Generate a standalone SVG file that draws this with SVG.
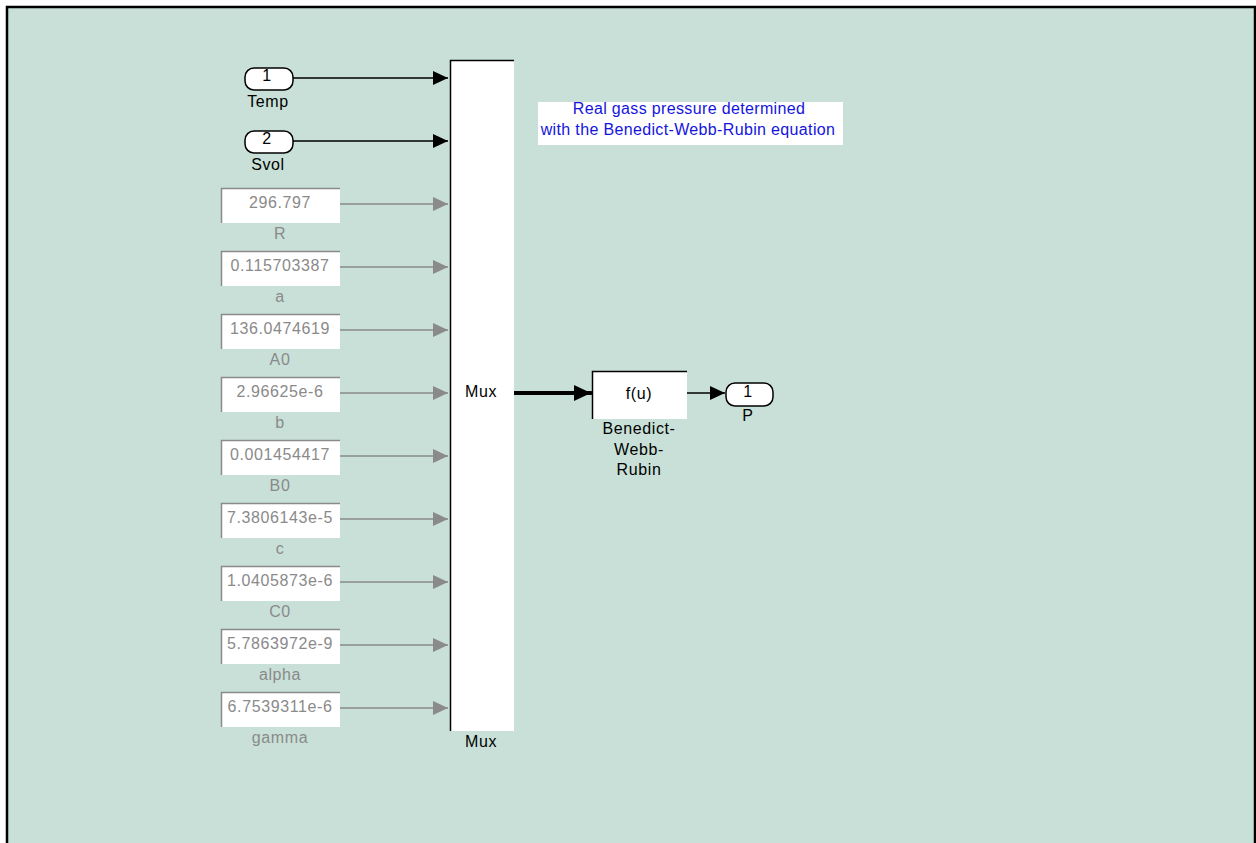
<svg xmlns="http://www.w3.org/2000/svg" width="1256" height="843" viewBox="0 0 1256 843">
<style>
text{font-family:"Liberation Sans",Arial,sans-serif;font-size:16px;text-anchor:middle;letter-spacing:0.6px}
.blk{fill:#000}
.gry{fill:#8a8a8a}
.blue{fill:#1414dc;letter-spacing:0.35px}
.cbox{fill:#fff}
.cedge{fill:none;stroke:#8a8a8a;stroke-width:1.5}
.port{fill:#fff;stroke:#000;stroke-width:1.5}
.wb{fill:none;stroke:#000;stroke-width:1.5}
.gl{stroke:#8a8a8a;stroke-width:1.5;fill:none}
.bl{stroke:#000;stroke-width:1.5;fill:none}
</style>
<defs>
<marker id="ab" markerWidth="15" markerHeight="14" refX="15" refY="7" orient="auto" markerUnits="userSpaceOnUse"><path d="M0,0 L15,7 L0,14 Z" fill="#000"/></marker>
<marker id="ag" markerWidth="15" markerHeight="14" refX="15" refY="7" orient="auto" markerUnits="userSpaceOnUse"><path d="M0,0 L15,7 L0,14 Z" fill="#8a8a8a"/></marker>
<marker id="abig" markerWidth="17" markerHeight="16" refX="17" refY="8" orient="auto" markerUnits="userSpaceOnUse"><path d="M0,0 L17,8 L0,16 Z" fill="#000"/></marker>
</defs>
<rect x="0" y="0" width="1256" height="843" fill="#fff"/>
<rect x="7" y="7" width="1248" height="850" fill="#C8E0D8" stroke="#000" stroke-width="2.5"/>

<g id="connectors">
<line class="bl" x1="293" y1="78" x2="448" y2="78" marker-end="url(#ab)"/>
<line class="bl" x1="293" y1="141" x2="448" y2="141" marker-end="url(#ab)"/>
<line class="gl" x1="338" y1="204" x2="448" y2="204" marker-end="url(#ag)"/>
<line class="gl" x1="338" y1="267" x2="448" y2="267" marker-end="url(#ag)"/>
<line class="gl" x1="338" y1="330" x2="448" y2="330" marker-end="url(#ag)"/>
<line class="gl" x1="338" y1="393" x2="448" y2="393" marker-end="url(#ag)"/>
<line class="gl" x1="338" y1="456" x2="448" y2="456" marker-end="url(#ag)"/>
<line class="gl" x1="338" y1="519" x2="448" y2="519" marker-end="url(#ag)"/>
<line class="gl" x1="338" y1="582" x2="448" y2="582" marker-end="url(#ag)"/>
<line class="gl" x1="338" y1="645" x2="448" y2="645" marker-end="url(#ag)"/>
<line class="gl" x1="338" y1="708" x2="448" y2="708" marker-end="url(#ag)"/>
<line x1="513" y1="393" x2="591" y2="393" stroke="#000" stroke-width="4" stroke-linecap="round" marker-end="url(#abig)"/>
<line class="bl" x1="685" y1="393" x2="725" y2="393" marker-end="url(#ab)"/>
</g>

<g id="in_temp">
<rect class="port" x="245" y="68" width="48" height="22" rx="9"/>
<text class="blk" x="267" y="81" font-size="14">1</text>
<text class="blk" x="268" y="107">Temp</text>
</g>
<g id="in_svol">
<rect class="port" x="245" y="131" width="48" height="22" rx="9"/>
<text class="blk" x="267" y="144" font-size="14">2</text>
<text class="blk" x="268" y="170">Svol</text>
</g>

<g id="const_R">
<rect class="cbox" x="221" y="188" width="119" height="35"/>
<path class="cedge" d="M221.5,223 V188.5 H340"/>
<text class="gry" x="280" y="208">296.797</text>
<text class="gry" x="280" y="238.5">R</text>
</g>
<g id="const_a">
<rect class="cbox" x="221" y="251" width="119" height="35"/>
<path class="cedge" d="M221.5,286 V251.5 H340"/>
<text class="gry" x="280" y="271">0.115703387</text>
<text class="gry" x="280" y="301.5">a</text>
</g>
<g id="const_A0">
<rect class="cbox" x="221" y="314" width="119" height="35"/>
<path class="cedge" d="M221.5,349 V314.5 H340"/>
<text class="gry" x="280" y="334">136.0474619</text>
<text class="gry" x="280" y="364.5">A0</text>
</g>
<g id="const_b">
<rect class="cbox" x="221" y="377" width="119" height="35"/>
<path class="cedge" d="M221.5,412 V377.5 H340"/>
<text class="gry" x="280" y="397">2.96625e-6</text>
<text class="gry" x="280" y="427.5">b</text>
</g>
<g id="const_B0">
<rect class="cbox" x="221" y="440" width="119" height="35"/>
<path class="cedge" d="M221.5,475 V440.5 H340"/>
<text class="gry" x="280" y="460">0.001454417</text>
<text class="gry" x="280" y="490.5">B0</text>
</g>
<g id="const_c">
<rect class="cbox" x="221" y="503" width="119" height="35"/>
<path class="cedge" d="M221.5,538 V503.5 H340"/>
<text class="gry" x="280" y="523">7.3806143e-5</text>
<text class="gry" x="280" y="553.5">c</text>
</g>
<g id="const_C0">
<rect class="cbox" x="221" y="566" width="119" height="35"/>
<path class="cedge" d="M221.5,601 V566.5 H340"/>
<text class="gry" x="280" y="586">1.0405873e-6</text>
<text class="gry" x="280" y="616.5">C0</text>
</g>
<g id="const_alpha">
<rect class="cbox" x="221" y="629" width="119" height="35"/>
<path class="cedge" d="M221.5,664 V629.5 H340"/>
<text class="gry" x="280" y="649">5.7863972e-9</text>
<text class="gry" x="280" y="679.5">alpha</text>
</g>
<g id="const_gamma">
<rect class="cbox" x="221" y="692" width="119" height="35"/>
<path class="cedge" d="M221.5,727 V692.5 H340"/>
<text class="gry" x="280" y="712">6.7539311e-6</text>
<text class="gry" x="280" y="742.5">gamma</text>
</g>

<g id="mux">
<rect x="450" y="60" width="64" height="671" fill="#fff"/>
<path class="wb" d="M450.5,731 V60.5 H514"/>
<text class="blk" x="481" y="397">Mux</text>
<text class="blk" x="481" y="747">Mux</text>
</g>

<g id="fcn">
<rect x="592" y="371" width="95" height="48" fill="#fff"/>
<path class="wb" d="M592.5,419 V371.5 H687"/>
<text class="blk" x="639" y="399">f(u)</text>
<text class="blk" x="639" y="434">Benedict-</text>
<text class="blk" x="639" y="455">Webb-</text>
<text class="blk" x="639" y="475">Rubin</text>
</g>

<g id="out_P">
<rect class="port" x="726" y="383" width="47" height="23" rx="9"/>
<text class="blk" x="748" y="397" font-size="14">1</text>
<text class="blk" x="748" y="421">P</text>
</g>

<g id="comment">
<rect x="538" y="102" width="305" height="43" fill="#fff"/>
<text class="blue" x="689" y="114">Real gass pressure determined</text>
<text class="blue" x="688" y="135">with the Benedict-Webb-Rubin equation</text>
</g>
</svg>
